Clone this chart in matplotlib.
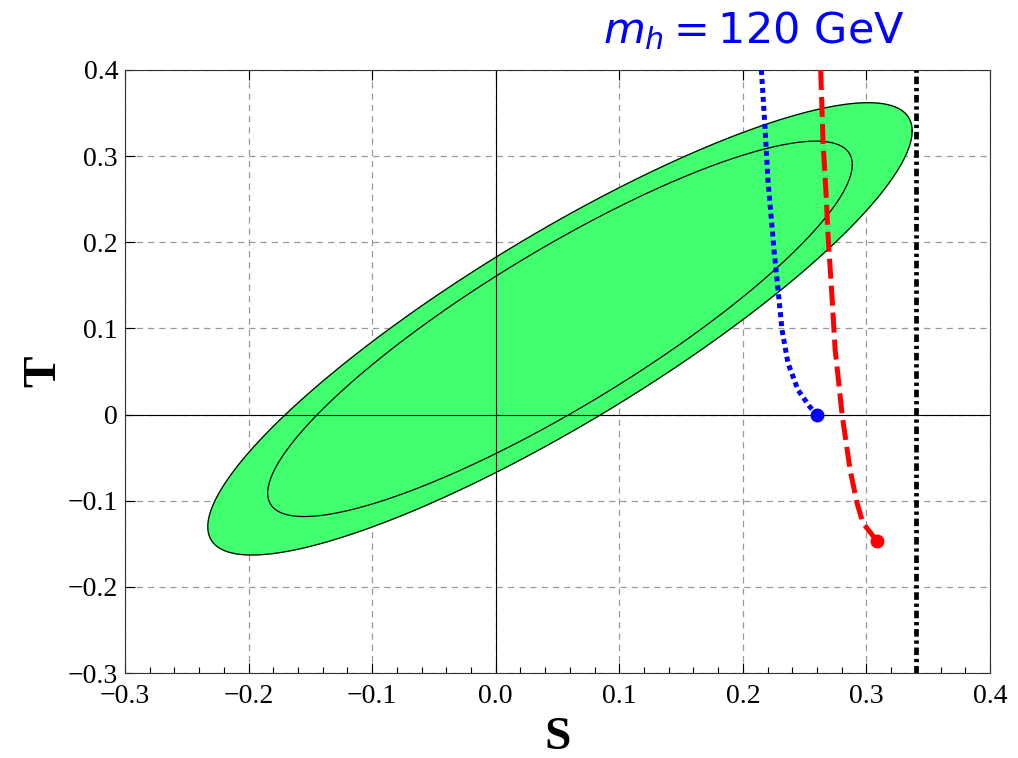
import numpy as np
import matplotlib.pyplot as plt
from matplotlib.ticker import MultipleLocator

# ellipse fit (S, T), half extents of outer contour and correlation
center_S, center_T = 0.052, 0.0995
half_S, half_T = 0.285, 0.2625
rho = 0.875
contour_scales = [1.0, 0.83]  # outer (filled), inner

# m_h = 120 GeV curves
blue_S = [0.2150, 0.2179, 0.2203, 0.2236, 0.2252, 0.2285, 0.2317, 0.2365, 0.2446, 0.2543, 0.2600]
blue_T = [0.4000, 0.3338, 0.2723, 0.2177, 0.1910, 0.1446, 0.0982, 0.0599, 0.0285, 0.0088, 0.0000]
red_S = [0.2630, 0.2649, 0.2673, 0.2690, 0.2723, 0.2747, 0.2771, 0.2803, 0.2868, 0.2924, 0.2972, 0.3086]
red_T = [0.4000, 0.3153, 0.2572, 0.2061, 0.1330, 0.0749, 0.0436, 0.0000, -0.0644, -0.1027, -0.1259, -0.1468]
black_S = 0.34

xticks = [-0.3, -0.2, -0.1, 0.0, 0.1, 0.2, 0.3, 0.4]
xticklabels = ['\u22120.3', '\u22120.2', '\u22120.1', '0.0', '0.1', '0.2', '0.3', '0.4']
yticks = [-0.3, -0.2, -0.1, 0.0, 0.1, 0.2, 0.3, 0.4]
yticklabels = ['\u22120.3', '\u22120.2', '\u22120.1', '0', '0.1', '0.2', '0.3', '0.4']


def ellipse(scale):
    t = np.linspace(0, 2 * np.pi, 400)
    u = np.cos(t)
    v = rho * np.cos(t) + np.sqrt(1 - rho ** 2) * np.sin(t)
    return center_S + scale * half_S * u, center_T + scale * half_T * v


fig = plt.figure(figsize=(10.18, 7.58), dpi=100)
ax = fig.add_axes([0.1228, 0.1121, 0.8497, 0.7956])

xs, ys = ellipse(contour_scales[0])
ax.fill(xs, ys, color='#41FF6E', zorder=1)
ax.plot(xs, ys, color='black', lw=0.9, zorder=2)
xs, ys = ellipse(contour_scales[1])
ax.plot(xs, ys, color='black', lw=0.9, zorder=2)

ax.axhline(0, color='black', lw=0.8, zorder=2.5)
ax.axvline(0, color='black', lw=0.8, zorder=2.5)

ax.plot(blue_S, blue_T, color='blue', lw=3.6, linestyle=(0, (1.0, 0.8)), zorder=3)
ax.plot(blue_S[-1], blue_T[-1], 'o', color='blue', ms=9, zorder=4)
ax.plot(red_S, red_T, color='red', lw=3.6, linestyle=(0, (4.0, 1.4)), zorder=3)
ax.plot(red_S[-1], red_T[-1], 'o', color='red', ms=9, zorder=4)
ax.axvline(black_S, color='black', lw=3.4, linestyle=(0, (1.6, 0.8, 0.7, 0.8)), zorder=3)

ax.set_xlim(-0.3, 0.4)
ax.set_ylim(-0.3, 0.4)
ax.set_xticks(xticks)
ax.set_xticklabels(xticklabels)
ax.set_yticks(yticks)
ax.set_yticklabels(yticklabels)
ax.xaxis.set_minor_locator(MultipleLocator(0.02))
ax.tick_params(which='both', direction='in', top=True, right=False, width=0.8)
ax.tick_params(axis='x', which='minor', top=False, bottom=True, length=4)
ax.tick_params(axis='x', which='major', length=7, labelsize=20, pad=8)
ax.tick_params(axis='y', which='major', length=7, labelsize=20, pad=5)
for lab in ax.get_xticklabels() + ax.get_yticklabels():
    lab.set_family('Liberation Serif')

ax.grid(True, which='major', color='#999999', linestyle=(0, (5, 4)), lw=0.9, zorder=0)
ax.set_axisbelow(True)
for sp in ax.spines.values():
    sp.set_linewidth(0.8)
    sp.set_color('#333333')

ax.set_xlabel('S', family='Liberation Serif', fontweight='bold', fontsize=34, labelpad=6)
ax.set_ylabel('T', family='Liberation Serif', fontweight='bold', fontsize=34, rotation=90, labelpad=2)

fig.text(0.741, 0.960, r'$m_h = 120\ \mathrm{GeV}$', color='blue', fontsize=31,
         ha='center', va='center')

fig.savefig('out.png', dpi=100)
